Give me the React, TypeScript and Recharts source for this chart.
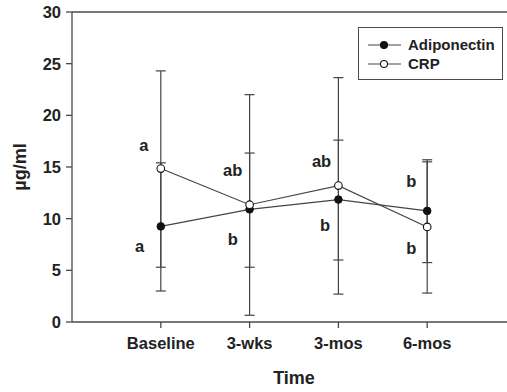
import React from "react";
import {
  ComposedChart,
  Line,
  Scatter,
  ErrorBar,
  XAxis,
  YAxis,
  ReferenceLine,
  Legend,
} from "recharts";

// values
const categories = ["Baseline", "3-wks", "3-mos", "6-mos"];
const xPos = [1, 2, 3, 4];
const adiponectin = [9.25, 10.9, 11.85, 10.75];
const adiponectinLow = [3.0, 5.3, 6.0, 5.75];
const adiponectinHigh = [15.4, 16.35, 17.6, 15.7];
const crp = [14.85, 11.35, 13.2, 9.2];
const crpLow = [5.3, 0.65, 2.7, 2.8];
const crpHigh = [24.3, 22.0, 23.65, 15.5];
const yTicks = [0, 5, 10, 15, 20, 25, 30];

// significance letters (x in category units, y in µg/ml)
const letterText = ["a", "a", "ab", "b", "ab", "b", "b", "b"];
const letterX = [0.81, 0.76, 1.81, 1.81, 2.81, 2.85, 3.82, 3.82];
const letterY = [17.1, 7.35, 14.7, 8.0, 15.6, 9.4, 13.6, 7.2];

const FONT = '"Liberation Sans", Arial, Helvetica, sans-serif';
const INK = "#222";
const AXIS = "#4a4a4a";
const LINE = "#444";

const data = xPos.map((x, i) => ({
  x,
  adipo: adiponectin[i],
  crp: crp[i],
  adipoErr: [adiponectin[i] - adiponectinLow[i], adiponectinHigh[i] - adiponectin[i]],
  crpErr: [crp[i] - crpLow[i], crpHigh[i] - crp[i]],
}));

const letters = letterText.map((text, i) => ({ x: letterX[i], y: letterY[i], text }));

const LetterShape = (props: any) => (
  <text
    x={props.cx}
    y={props.cy}
    textAnchor="middle"
    dominantBaseline="central"
    fontSize={16.5}
    fontWeight={700}
    fill={INK}
    fontFamily={FONT}
  >
    {props.payload.text}
  </text>
);

const LegendBox = () => (
  <div
    style={{
      width: 145,
      height: 53,
      boxSizing: "border-box",
      border: `1.3px solid ${AXIS}`,
      background: "#fff",
      fontFamily: FONT,
      fontWeight: 700,
      fontSize: 15,
      color: INK,
      position: "relative",
    }}
  >
    {[
      { label: "Adiponectin", fill: "#111", top: 17 },
      { label: "CRP", fill: "#fff", top: 36 },
    ].map((item) => (
      <div key={item.label} style={{ position: "absolute", left: 0, top: item.top - 9, height: 18, width: "100%" }}>
        <svg width={46} height={18} style={{ position: "absolute", left: 6, top: 0 }}>
          <line x1={3} y1={9} x2={36} y2={9} stroke={LINE} strokeWidth={1.2} />
          <circle cx={19} cy={9} r={3.5} fill={item.fill} stroke="#111" strokeWidth={1.1} />
        </svg>
        <span style={{ position: "absolute", left: 49, top: 0, lineHeight: "18px" }}>{item.label}</span>
      </div>
    ))}
  </div>
);

const YLabel = (props: any) => {
  const vb = props.viewBox || {};
  const cy = vb.y + vb.height / 2;
  return (
    <text
      x={20}
      y={cy}
      transform={`rotate(-90, 20, ${cy})`}
      textAnchor="middle"
      dominantBaseline="central"
      fontSize={18}
      fontWeight={700}
      fill={INK}
      fontFamily={FONT}
    >
      µg/ml
    </text>
  );
};

const XLabel = (props: any) => {
  const vb = props.viewBox || {};
  return (
    <text
      x={vb.x + vb.width / 2}
      y={378}
      textAnchor="middle"
      dominantBaseline="central"
      fontSize={18}
      fontWeight={700}
      fill={INK}
      fontFamily={FONT}
    >
      Time
    </text>
  );
};

export default function App() {
  return (
    <div
      style={{
        position: "absolute",
        left: 0,
        top: 0,
        width: 507,
        height: 392,
        overflow: "hidden",
        background: "#fff",
      }}
    >
      <ComposedChart
        width={530}
        height={392}
        data={data}
        margin={{ top: 12, right: 14, left: 0, bottom: 0 }}
        style={{ fontFamily: FONT }}
      >
        <XAxis
          dataKey="x"
          type="number"
          domain={[0, 5]}
          ticks={xPos}
          tickFormatter={(v: number) => categories[v - 1] ?? ""}
          height={70}
          tickSize={6}
          tickMargin={9}
          stroke={AXIS}
          strokeWidth={1.3}
          tick={{ fontSize: 16.5, fontWeight: 700, fill: INK }}
          label={<XLabel />}
        />
        <YAxis
          type="number"
          domain={[0, 30]}
          ticks={yTicks}
          width={72}
          tickSize={6}
          tickMargin={5}
          stroke={AXIS}
          strokeWidth={1.3}
          tick={{ fontSize: 16.5, fontWeight: 700, fill: INK }}
          label={<YLabel />}
        />
        <ReferenceLine y={30} stroke={AXIS} strokeWidth={1.3} ifOverflow="visible" />
        <Legend
          layout="horizontal"
          verticalAlign="middle"
          align="center"
          wrapperStyle={{ left: 358, top: 27, width: 145, height: 53 }}
          content={<LegendBox />}
        />
        <Line
          dataKey="adipo"
          name="Adiponectin"
          stroke={LINE}
          strokeWidth={1.2}
          dot={{ r: 3.8, fill: "#111", stroke: "#111", strokeWidth: 1 }}
          activeDot={false}
          isAnimationActive={false}
        >
          <ErrorBar dataKey="adipoErr" direction="y" width={5} stroke={LINE} strokeWidth={1.2} />
        </Line>
        <Line
          dataKey="crp"
          name="CRP"
          stroke={LINE}
          strokeWidth={1.2}
          dot={{ r: 3.8, fill: "#fff", stroke: "#111", strokeWidth: 1.1 }}
          activeDot={false}
          isAnimationActive={false}
        >
          <ErrorBar dataKey="crpErr" direction="y" width={5} stroke={LINE} strokeWidth={1.2} />
        </Line>
        <Scatter
          data={letters}
          dataKey="y"
          shape={<LetterShape />}
          legendType="none"
          isAnimationActive={false}
        />
      </ComposedChart>
    </div>
  );
}
